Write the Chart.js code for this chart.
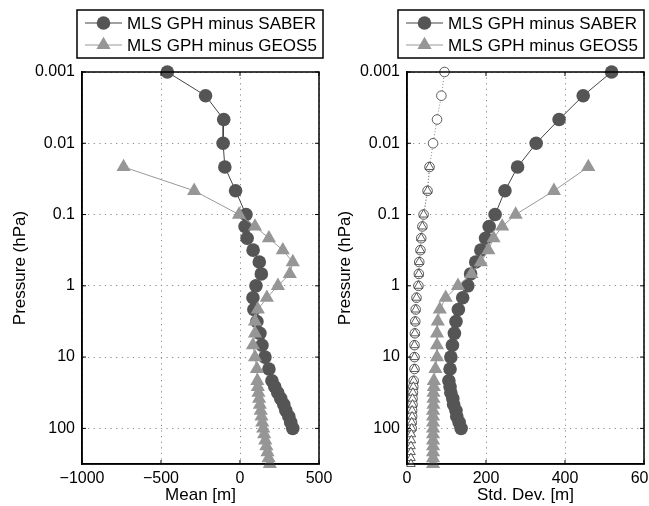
<!DOCTYPE html>
<html>
<head>
<meta charset="utf-8">
<script src="https://cdn.jsdelivr.net/npm/chart.js@4"></script>
<style>
  html, body { margin: 0; padding: 0; background: #fff; overflow: hidden; }
  .panel { position: absolute; top: 0; height: 506px; }
  #left { left: 0; width: 340px; }
  #right { left: 325px; width: 340px; }
</style>
</head>
<body>
<div class="panel" id="left"><canvas id="meanChart"></canvas></div>
<div class="panel" id="right"><canvas id="stdChart"></canvas></div>
<script>
// pressure levels (hPa) of each comparison
const pSaber = [0.001, 0.00215, 0.00464, 0.01, 0.0215, 0.0464,
  0.1, 0.147, 0.215, 0.316, 0.464, 0.681,
  1, 1.47, 2.15, 3.16, 4.64, 6.81, 10, 14.7,
  21.5, 26.1, 31.6, 38.3, 46.4, 56.2, 68.1, 82.5, 100];
const pGeos = [0.0215, 0.0464,
  0.1, 0.147, 0.215, 0.316, 0.464, 0.681,
  1, 1.47, 2.15, 3.16, 4.64, 6.81, 10, 14.7,
  21.5, 26.1, 31.6, 38.3, 46.4, 56.2, 68.1, 82.5, 100,
  121, 147, 178, 215, 261, 316];

// mean differences [m]
const saberMean = [-460, -218, -103, -107, -96, -28,
  38, 32, 45, 83, 122, 135,
  101, 82, 88, 107, 126, 139, 158, 183,
  202, 220, 239, 258, 277, 290, 309, 321, 334];
const geosMean = [-737, -290,
  -6, 95, 183, 271, 334, 315,
  240, 170, 113, 95, 95, 82, 95, 107,
  110, 113, 117, 121, 126, 131, 136, 141, 147,
  153, 160, 167, 174, 181, 189];

// standard deviations [m]
const saberStd = [518, 446, 385, 327, 280, 248,
  223, 208, 199, 187, 174, 161,
  154, 141, 130, 124, 120, 115, 111, 109,
  106, 109, 111, 116, 118, 124, 126, 132, 137];
const geosStd = [459, 372,
  275, 241, 219, 206, 187, 163,
  129, 98, 83, 78, 76, 76, 76, 72,
  68, 68, 67, 67, 67, 66, 66, 66, 66,
  66, 66, 66, 66, 66, 66];

// expected precision (open symbols) [m]
const saberPrec = [95, 87, 76, 66, 57, 52,
  42, 39, 36, 34, 31, 30,
  29, 24, 22, 21, 20, 19, 19, 19,
  17, 16, 15, 14, 14, 13, 13, 12, 12];
const geosPrec = [57, 52,
  42, 39, 36, 34, 31, 30,
  29, 24, 22, 21, 20, 19, 19, 19,
  17, 16, 15, 14, 14, 13, 13, 12, 12,
  11, 11, 10, 10, 10, 10];

const pressureTicks = [0.001, 0.01, 0.1, 1, 10, 100];
const legendLabels = ["MLS GPH minus SABER", "MLS GPH minus GEOS5"];

const FONT = "'Liberation Sans', Helvetica, Arial, sans-serif";
const DARK = "rgb(85,85,85)";
const LIGHT = "rgb(150,150,150)";

const pts = (vals, levels) => vals.map((v, i) => ({ x: v, y: levels[i] }));

function profile(vals, levels, kind) {
  if (kind === "saber") {
    return { data: pts(vals, levels), showLine: true, borderColor: "#444", borderWidth: 1,
      pointStyle: "circle", pointRadius: 6.8, pointBackgroundColor: DARK, pointBorderColor: DARK,
      pointBorderWidth: 0, clip: false, order: 2 };
  }
  if (kind === "geos") {
    return { data: pts(vals, levels), showLine: true, borderColor: "#999", borderWidth: 1,
      pointStyle: "triangle", pointRadius: 8.2, pointBackgroundColor: LIGHT, pointBorderColor: LIGHT,
      pointBorderWidth: 0, clip: false, order: 1 };
  }
  if (kind === "saberPrec") {
    return { data: pts(vals, levels), showLine: true, borderColor: "#888", borderWidth: 1,
      borderDash: [1, 2], pointStyle: "circle", pointRadius: 4.8, pointBackgroundColor: "#fff",
      pointBorderColor: "#333", pointBorderWidth: 0.8, clip: false, order: 4 };
  }
  return { data: pts(vals, levels), showLine: true, borderColor: "#888", borderWidth: 1,
    borderDash: [1, 2], pointStyle: "triangle", pointRadius: 5, pointBackgroundColor: "#fff",
    pointBorderColor: "#333", pointBorderWidth: 0.8, clip: false, order: 3 };
}

// frame, inward ticks and boxed legend, matlab style
const framePlugin = {
  id: "frame",
  afterDraw(chart, args, opts) {
    const { ctx, chartArea: a, scales } = chart;
    ctx.save();
    ctx.strokeStyle = "#000";
    ctx.lineWidth = 1.5;
    ctx.strokeRect(a.left, a.top, a.right - a.left, a.bottom - a.top);
    ctx.lineWidth = 1;
    ctx.beginPath();
    scales.x.ticks.forEach(t => {
      const x = scales.x.getPixelForValue(t.value);
      ctx.moveTo(x, a.bottom); ctx.lineTo(x, a.bottom - 4);
      ctx.moveTo(x, a.top); ctx.lineTo(x, a.top + 4);
    });
    scales.y.ticks.forEach(t => {
      const y = scales.y.getPixelForValue(t.value);
      ctx.moveTo(a.left, y); ctx.lineTo(a.left + 4, y);
      ctx.moveTo(a.right, y); ctx.lineTo(a.right - 4, y);
    });
    ctx.stroke();

    // legend box
    const bx = opts.x, by = 10, bw = 246, bh = 48;
    ctx.fillStyle = "#fff";
    ctx.fillRect(bx, by, bw, bh);
    ctx.lineWidth = 1.5;
    ctx.strokeStyle = "#000";
    ctx.strokeRect(bx, by, bw, bh);
    const rows = [
      { y: by + 13, line: "#444", fill: DARK, shape: "circle" },
      { y: by + 35, line: "#999", fill: LIGHT, shape: "triangle" }
    ];
    rows.forEach((r, i) => {
      ctx.strokeStyle = r.line;
      ctx.lineWidth = 1;
      ctx.beginPath();
      ctx.moveTo(bx + 8, r.y); ctx.lineTo(bx + 45, r.y);
      ctx.stroke();
      const cx = bx + 26.5;
      ctx.fillStyle = r.fill;
      ctx.beginPath();
      if (r.shape === "circle") {
        ctx.arc(cx, r.y, 6.8, 0, Math.PI * 2);
      } else {
        const rad = 8.2;
        ctx.moveTo(cx, r.y - rad);
        ctx.lineTo(cx + rad * Math.sin(Math.PI * 2 / 3), r.y + rad / 2);
        ctx.lineTo(cx - rad * Math.sin(Math.PI * 2 / 3), r.y + rad / 2);
        ctx.closePath();
      }
      ctx.fill();
      ctx.fillStyle = "#000";
      ctx.font = "17px " + FONT;
      ctx.textBaseline = "middle";
      ctx.textAlign = "left";
      ctx.fillText(legendLabels[i], bx + 50, r.y + 1);
    });
    ctx.restore();
  }
};

function makeChart(canvasId, datasets, xCfg, legendX) {
  new Chart(document.getElementById(canvasId).getContext("2d"), {
    type: "scatter",
    data: { datasets: datasets },
    plugins: [framePlugin],
    options: {
      responsive: true,
      maintainAspectRatio: false,
      animation: false,
      events: [],
      layout: { padding: { top: 72, right: 340 - 319, left: 0, bottom: 0 } },
      plugins: { legend: { display: false }, tooltip: { enabled: false }, frame: { x: legendX } },
      scales: {
        x: {
          type: "linear",
          min: xCfg.min, max: xCfg.max,
          afterBuildTicks: axis => { axis.ticks = xCfg.ticks.map(v => ({ value: v })); },
          afterFit: axis => { axis.height = 42; },
          ticks: {
            color: "#000", font: { family: FONT, size: 16 }, padding: 5, maxRotation: 0,
            callback: v => String(v).replace("-", "\u2212")
          },
          grid: { color: "#8a8a8a", lineWidth: 1, drawTicks: false },
          border: { color: "#000", width: 1.5, dash: [1.2, 4.4] },
          title: { display: true, text: xCfg.title, color: "#000",
            font: { family: FONT, size: 17 }, padding: { top: 0, bottom: 0 } }
        },
        y: {
          type: "logarithmic",
          reverse: true,
          min: 0.001, max: 316.2,
          afterBuildTicks: axis => { axis.ticks = pressureTicks.map(v => ({ value: v })); },
          afterFit: axis => { axis.width = 82; },
          ticks: { color: "#000", font: { family: FONT, size: 16 }, padding: 7, autoSkip: false,
            callback: v => String(v) },
          grid: { color: "#8a8a8a", lineWidth: 1, drawTicks: false },
          border: { color: "#000", width: 1.5, dash: [1.2, 4.4] },
          title: { display: true, text: "Pressure (hPa)", color: "#000",
            font: { family: FONT, size: 17 }, padding: { top: 10, bottom: 0 } }
        }
      }
    }
  });
}

makeChart("meanChart", [
  profile(geosMean, pGeos, "geos"),
  profile(saberMean, pSaber, "saber")
], { min: -1000, max: 500, ticks: [-1000, -500, 0, 500], title: "Mean [m]" }, 77);

makeChart("stdChart", [
  profile(geosStd, pGeos, "geos"),
  profile(saberStd, pSaber, "saber"),
  profile(geosPrec, pGeos, "geosPrec"),
  profile(saberPrec, pSaber, "saberPrec")
], { min: 0, max: 600, ticks: [0, 200, 400, 600], title: "Std. Dev. [m]" }, 73);
</script>
</body>
</html>
